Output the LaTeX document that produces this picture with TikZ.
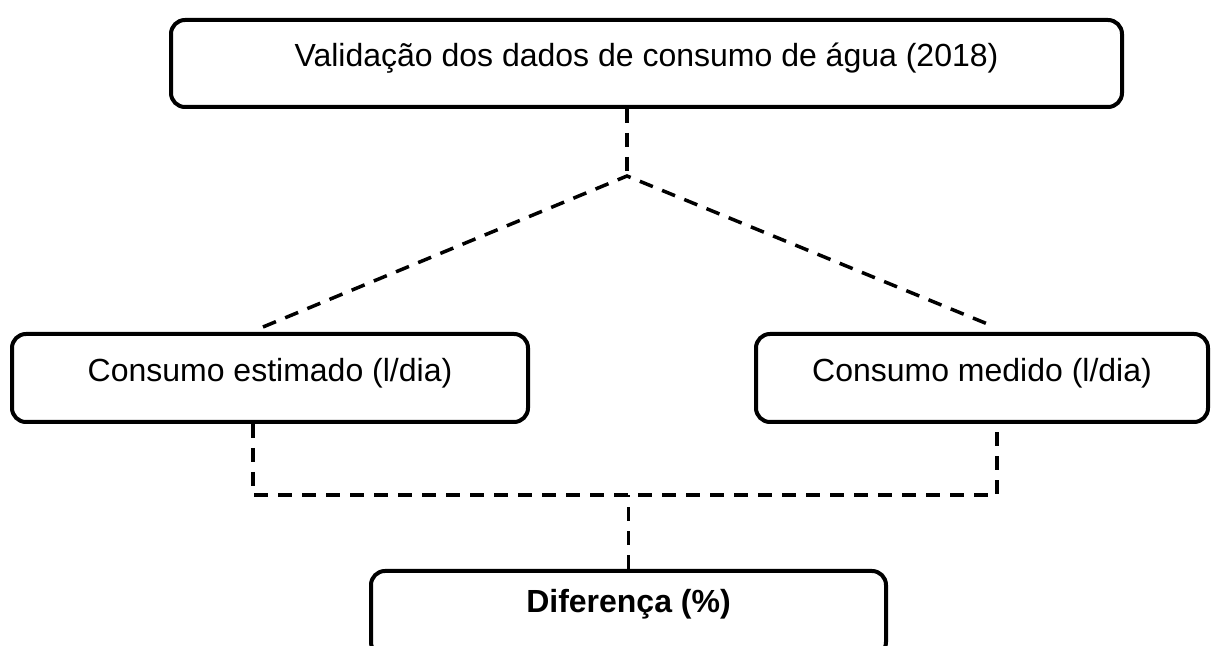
\documentclass[tikz,border=0pt]{standalone}
\usepackage{fontspec}
\setmainfont{Liberation Sans}
\usepackage{tikz}
\usetikzlibrary{calc}

\tikzset{
  etapa/.style = {draw, line width=2pt, rounded corners=7pt, align=center,
    minimum height=44pt, text height=11.5pt, text depth=8pt,
    font=\fontsize{16pt}{19pt}\selectfont},
  ligacao/.style = {line width=1.75pt, dash pattern=on 7pt off 5pt}
}

\begin{document}
\begin{tikzpicture}[x=0.5pt, y=-0.5pt]
\clip (0,0) rectangle (1211,646);

\node[etapa, minimum width=475.5pt, minimum height=43.5pt] (validacao) at (646.5,63.5)
  {Valida\c{c}\~ao dos dados de consumo de \'agua (2018)};
\node[etapa, minimum width=258pt] (estimado) at (270,378) {Consumo estimado (l/dia)};
\node[etapa, minimum width=226pt] (medido) at (982,378) {Consumo medido (l/dia)};
\node[etapa, minimum width=257.5pt, minimum height=42.5pt, text depth=12.5pt] (diferenca) at (628.5,613.5)
  {\textbf{Diferen\c{c}a (\%)}};

\coordinate (juncao) at (627,176);
\coordinate (fimE) at (263,327);
\coordinate (fimM) at (990,325);
\coordinate (baseE) at (253,495);
\coordinate (baseM) at (997,495);

%\draw (validacao.south) -- (juncao);
\draw[ligacao] (juncao |- validacao.south) -- (juncao);
\draw[ligacao] (fimE) -- (juncao) -- (fimM);

\draw[ligacao] (baseE |- estimado.south) -- (baseE) -- (baseM) -- (baseM |- medido.south);
\draw[ligacao] (diferenca.north) -- (diferenca.north |- baseE);

\end{tikzpicture}
\end{document}
